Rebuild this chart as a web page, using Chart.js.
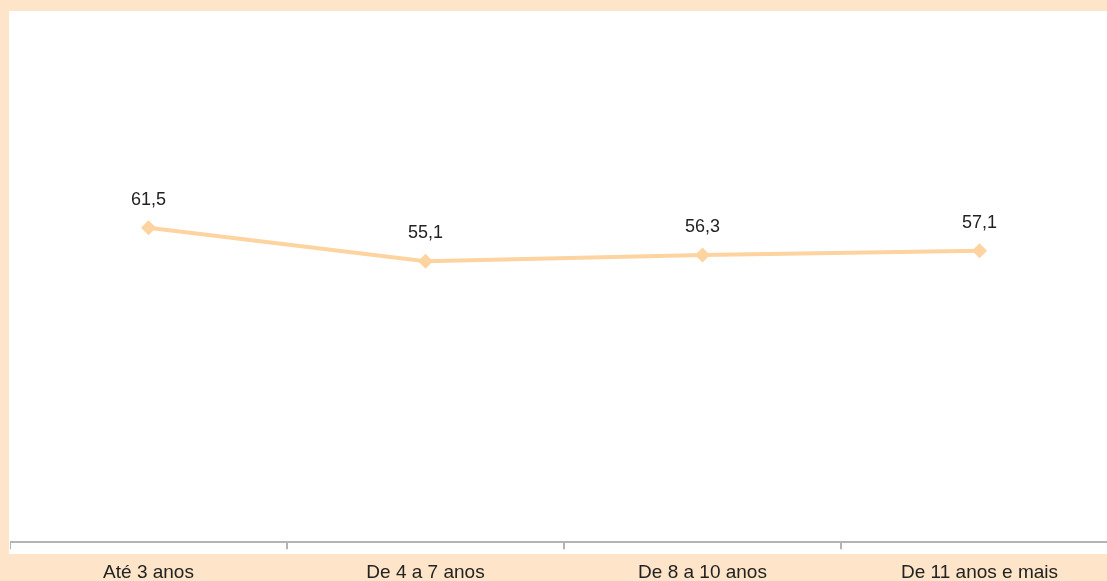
<!DOCTYPE html>
<html>
<head>
<meta charset="utf-8">
<script src="https://cdn.jsdelivr.net/npm/chart.js@4/dist/chart.umd.min.js"></script>
<style>
  html, body { margin: 0; padding: 0; width: 1107px; height: 581px; overflow: hidden; background: #fee5c9; }
  #panel { position: absolute; left: 9px; top: 11px; width: 1098px; height: 543px; background: #fff; }
  #wrap { position: absolute; left: 10px; top: 0; width: 1108px; height: 596px; }
</style>
</head>
<body>
<div id="panel"></div>
<div id="wrap"><canvas id="chart"></canvas></div>
<script>
const categories = ["Até 3 anos", "De 4 a 7 anos", "De 8 a 10 anos", "De 11 anos e mais"];
const values = [61.5, 55.1, 56.3, 57.1];

const colorLine = "#fdd3a0";
const colorText = "#222222";
const colorAxis = "#b4b4b4";

// draws the value above each point, with a decimal comma
const valueLabels = {
    id: 'valueLabels',
    afterDatasetsDraw(chart) {
        const ctx = chart.ctx;
        const meta = chart.getDatasetMeta(0);
        ctx.save();
        ctx.font = '18px "Liberation Sans", Arial, sans-serif';
        ctx.fillStyle = colorText;
        ctx.textAlign = 'center';
        ctx.textBaseline = 'middle';
        meta.data.forEach((pt, i) => {
            const txt = values[i].toFixed(1).replace('.', ',');
            ctx.fillText(txt, pt.x, pt.y - 28);
        });
        ctx.restore();
    }
};

new Chart(document.getElementById('chart'), {
    type: 'line',
    data: {
        labels: categories,
        datasets: [{
            data: values,
            borderColor: colorLine,
            backgroundColor: colorLine,
            borderWidth: 4,
            pointStyle: 'rectRot',
            pointRadius: 7.5,
            pointHoverRadius: 7.5,
            pointBorderWidth: 0,
            tension: 0,
        }]
    },
    options: {
        responsive: true,
        maintainAspectRatio: false,
        animation: false,
        layout: { autoPadding: false, padding: { top: 26, left: 0, right: 0, bottom: 0 } },
        plugins: {
            legend: { display: false },
            tooltip: { enabled: false },
        },
        scales: {
            x: {
                offset: true,
                grid: {
                    offset: true,
                    drawOnChartArea: false,
                    drawTicks: true,
                    tickLength: 7,
                    color: colorAxis,
                    lineWidth: 2,
                },
                border: { display: true, color: colorAxis, width: 2 },
                ticks: {
                    color: colorText,
                    padding: 12,
                    maxRotation: 0,
                    font: { family: '"Liberation Sans", Arial, sans-serif', size: 19 },
                },
            },
            y: {
                display: false,
                min: 1.5,
                max: 100,
            }
        }
    },
    plugins: [valueLabels]
});
</script>
</body>
</html>
